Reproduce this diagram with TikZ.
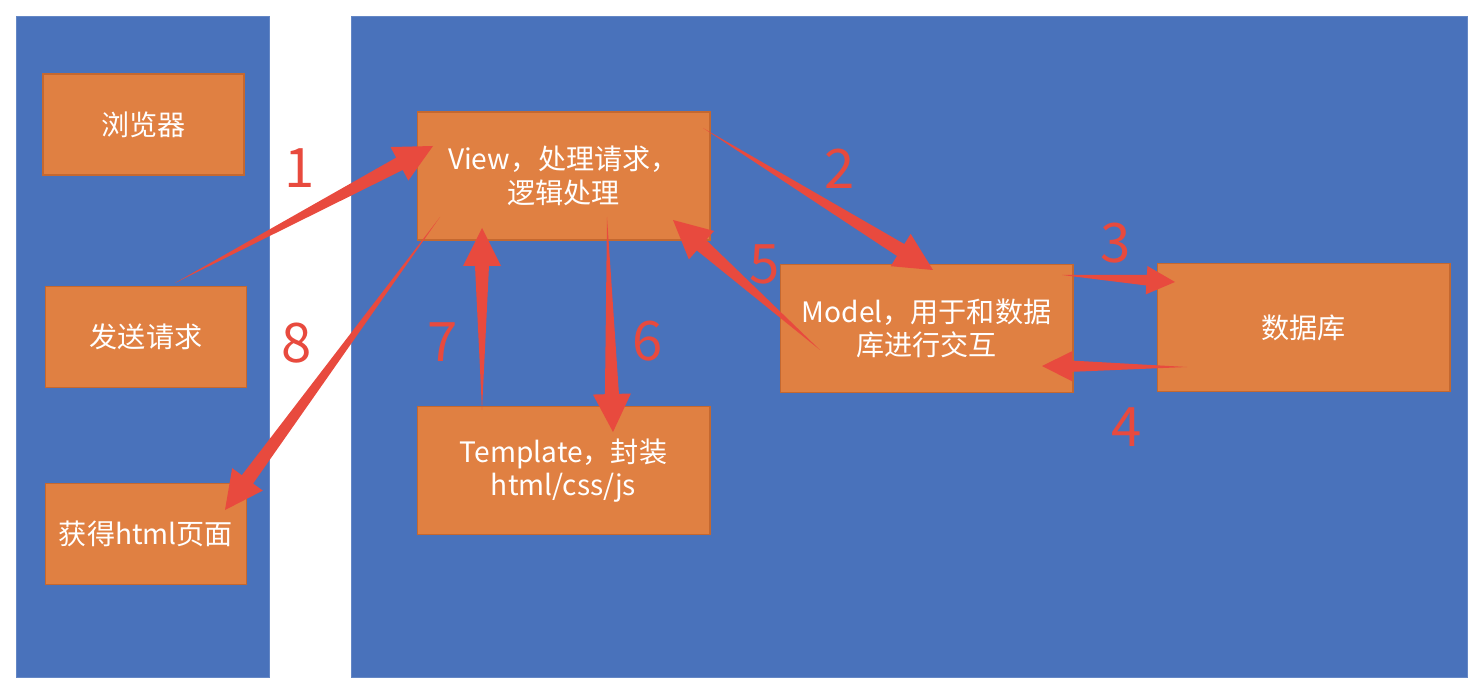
\documentclass[tikz,border=0pt]{standalone}
\usepackage{fontspec}
\setmainfont{Noto Sans CJK SC}
\usetikzlibrary{calc}
\definecolor{panelblue}{RGB}{73,114,187}
\definecolor{boxorange}{RGB}{224,128,66}
\definecolor{boxedge}{RGB}{196,104,48}
\definecolor{arrowred}{RGB}{232,74,62}

% tapered arrow: [size] tail, tip
\newcommand{\flowarrow}[3][1]{%
	\coordinate (hb) at ($(#3)!#1*0.76cm!(#2)$);
	\coordinate (hb1) at ($(hb)!#1*0.14cm!90:(#3)$);
	\coordinate (hb2) at ($(hb)!#1*0.14cm!-90:(#3)$);
	\coordinate (hh1) at ($(hb)!#1*0.38cm!90:(#3)$);
	\coordinate (hh2) at ($(hb)!#1*0.38cm!-90:(#3)$);
	\fill[arrowred] (#2) -- (hb1) -- (hh1) -- (#3) -- (hh2) -- (hb2) -- cycle;
}

\begin{document}
\begin{tikzpicture}[
	x=0.02cm,y=-0.02cm,
	panel/.style={
		draw=panelblue!85!white,
		fill=panelblue,
		line width=0.4pt,
		minimum height=13.22cm
	},
	stepbox/.style={
		draw=boxedge,
		fill=boxorange,
		line width=0.6pt,
		align=center,
		text=white,
		minimum width=5.86cm,
		minimum height=2.56cm,
		inner sep=2pt,
		font=\fontsize{16}{19}\selectfont
	},
	clientbox/.style={
		stepbox,
		minimum width=4.02cm,
		minimum height=2.02cm
	},
	steplabel/.style={
		text=arrowred,
		inner sep=0pt,
		font=\fontsize{31}{31}\selectfont
	}
	]
	
	\useasboundingbox (0,0) rectangle (1484,692);
	
	% Panels
	\node[panel,minimum width=5.06cm] (client) at (142.5,346.5) {};
	\node[panel,minimum width=22.32cm] (server) at (909,346.5) {};
	
	% Client side
	\node[clientbox] (browser) at (143.5,124.5) {浏览器};
	\node[clientbox] (request) at (146,337) {发送请求};
	\node[clientbox] (page) at (146,534) {获得html页面};
	
	% Server side
	\node[stepbox] (view) at (563.5,176) {
		View，处理请求，\\
		逻辑处理
	};
	\node[stepbox] (template) at (563.5,470.5) {
		Template，封装\\
		html/css/js
	};
	\node[stepbox] (model) at (926.5,328.5) {
		Model，用于和数据\\
		库进行交互
	};
	\node[stepbox] (database) at (1303.5,327.5) {数据库};
	
	% Arrow ends
	\coordinate (s1) at (175,283);  \coordinate (e1) at (433,146);
	\coordinate (s2) at (703,128);  \coordinate (e2) at (933,270);
	\coordinate (s3) at (1062,275); \coordinate (e3) at (1175,282);
	\coordinate (s4) at (1187,367); \coordinate (e4) at (1042,366);
	\coordinate (s5) at (820,350);  \coordinate (e5) at (673,220);
	\coordinate (s6) at (607,217);  \coordinate (e6) at (613,432);
	\coordinate (s7) at (482,410);  \coordinate (e7) at (482,228);
	\coordinate (s8) at (440,217);  \coordinate (e8) at (225,510);
	
	% Request flow
	\flowarrow{s1}{e1}
	\flowarrow{s2}{e2}
	\flowarrow[0.75]{s3}{e3}
	\flowarrow[0.8]{s4}{e4}
	\flowarrow{s5}{e5}
	\flowarrow{s6}{e6}
	\flowarrow{s7}{e7}
	\flowarrow{s8}{e8}
	
	% Step numbers
	\node[steplabel] (n1) at (300,168) {1};
	\node[steplabel] (n2) at (840,169) {2};
	\node[steplabel] (n3) at (1116,243) {3};
	\node[steplabel] (n4) at (1127,427) {4};
	\node[steplabel] (n5) at (765,264) {5};
	\node[steplabel] (n6) at (648,341) {6};
	\node[steplabel] (n7) at (443,342) {7};
	\node[steplabel] (n8) at (297,343) {8};
	
\end{tikzpicture}
\end{document}
